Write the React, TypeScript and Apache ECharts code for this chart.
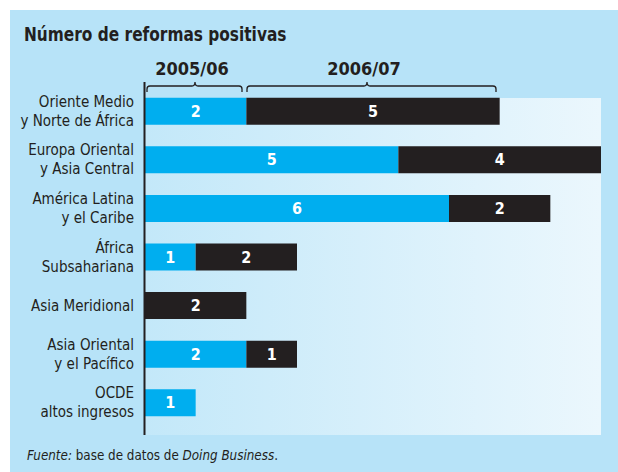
import React, { useEffect, useRef } from "react";
import * as echarts from "echarts";

const categories = [
  "Oriente Medio\ny Norte de África",
  "Europa Oriental\ny Asia Central",
  "América Latina\ny el Caribe",
  "África\nSubsahariana",
  "Asia Meridional",
  "Asia Oriental\ny el Pacífico",
  "OCDE\naltos ingresos",
];
const reforms0506: (number | null)[] = [2, 5, 6, 1, null, 2, 1];
const reforms0607: (number | null)[] = [5, 4, 2, 2, 2, 1, null];
const periodLabels = ["2005/06", "2006/07"];

const FONT = "'Liberation Sans Narrow', 'DejaVu Sans Condensed', 'Roboto Condensed', sans-serif";
const INK = "#231f20";

echarts.graphic.registerShape(
  "brace1",
  echarts.graphic.extendPath(
    "M147,92 L147,89 Q147,86 150,86 L192,86 Q195,86 195,82 Q195,86 198,86 L239,86 Q242,86 242,89 L242,92",
    {}
  )
);
echarts.graphic.registerShape(
  "brace2",
  echarts.graphic.extendPath(
    "M247,92 L247,89 Q247,86 250,86 L364,86 Q367,86 367,82 Q367,86 370,86 L493,86 Q496,86 496,89 L496,92",
    {}
  )
);

export default function App() {
  const ref = useRef<HTMLDivElement>(null);
  useEffect(() => {
    document.body.style.margin = "0";
    const chart = echarts.init(ref.current!, null, { renderer: "svg" });
    const labelStyle = {
      show: true,
      position: "inside",
      color: "#ffffff",
      fontWeight: "bold",
      fontSize: 16,
      fontFamily: FONT,
      formatter: (p: any) => (p.value ? String(p.value) : ""),
    };
    chart.setOption({
      animation: false,
      backgroundColor: "#ffffff",
      grid: { left: 145, right: 17, top: 87, height: 340, containLabel: false },
      xAxis: {
        type: "value",
        min: 0,
        max: 9,
        show: false,
      },
      yAxis: {
        type: "category",
        inverse: true,
        data: categories,
        axisLine: { show: false },
        axisTick: { show: false },
        axisLabel: {
          margin: 11,
          fontSize: 15,
          lineHeight: 19,
          color: INK,
          fontFamily: FONT,
          align: "right",
        },
      },
      graphic: [
        { type: "rect", z: -10, silent: true, shape: { x: 10, y: 10, width: 608, height: 462 }, style: { fill: "#b7e3f8" } },
        {
          type: "rect",
          z: -9,
          silent: true,
          shape: { x: 145, y: 98, width: 456, height: 337 },
          style: {
            fill: new echarts.graphic.LinearGradient(0, 0, 1, 0, [
              { offset: 0, color: "#c3e8f9" },
              { offset: 1, color: "#ebf7fd" },
            ]),
          },
        },
        { type: "line", z: 10, shape: { x1: 144.5, y1: 82, x2: 144.5, y2: 435 }, style: { stroke: INK, lineWidth: 2 } },
        {
          type: "text",
          x: 24,
          y: 34,
          scaleX: 0.9,
          style: { text: "Número de reformas positivas", fontSize: 19, fontWeight: "bold", fill: INK, fontFamily: FONT, verticalAlign: "middle" },
        },
        {
          type: "text",
          x: 192,
          y: 68,
          style: { text: periodLabels[0], fontSize: 18, fontWeight: "bold", fill: INK, fontFamily: FONT, align: "center", verticalAlign: "middle" },
        },
        {
          type: "text",
          x: 364,
          y: 68,
          style: { text: periodLabels[1], fontSize: 18, fontWeight: "bold", fill: INK, fontFamily: FONT, align: "center", verticalAlign: "middle" },
        },
        { type: "brace1", z: 10, style: { fill: "none", stroke: INK, lineWidth: 1.3 } },
        { type: "brace2", z: 10, style: { fill: "none", stroke: INK, lineWidth: 1.3 } },
        {
          type: "text",
          x: 27,
          y: 455,
          style: {
            text: "{i|Fuente:} base de datos de {i|Doing Business}.",
            fontSize: 13.3,
            fill: INK,
            fontFamily: FONT,
            verticalAlign: "middle",
            rich: {
              i: { fontStyle: "italic", fontSize: 13.3, fill: INK, fontFamily: FONT },
            },
          },
        },
      ],
      series: [
        {
          name: periodLabels[0],
          type: "bar",
          stack: "total",
          barWidth: 27,
          data: reforms0506,
          itemStyle: { color: "#00aeef" },
          label: labelStyle,
        },
        {
          name: periodLabels[1],
          type: "bar",
          stack: "total",
          barWidth: 27,
          data: reforms0607,
          itemStyle: { color: INK },
          label: labelStyle,
        },
      ],
    });
    return () => chart.dispose();
  }, []);
  return <div ref={ref} style={{ position: "fixed", left: 0, top: 0, width: 618, height: 472 }} />;
}
